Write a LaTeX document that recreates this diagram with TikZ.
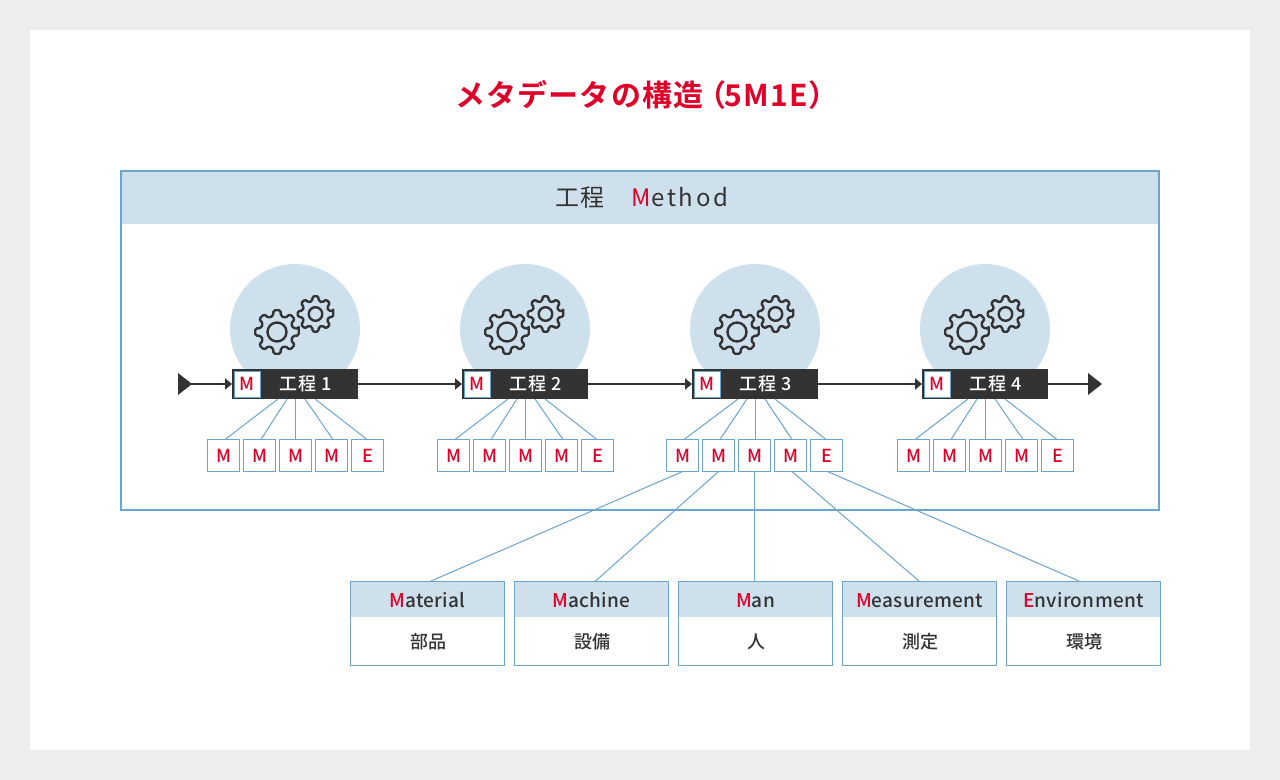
\documentclass[tikz,border=0pt]{standalone}
\usepackage{fontspec}
\usetikzlibrary{calc,arrows.meta}
\setmainfont{Noto Sans CJK JP}
\newfontfamily\jpreg[LetterSpace=8]{Noto Sans CJK JP}
\newfontfamily\jplat[LetterSpace=11]{Noto Sans CJK JP}
\newfontfamily\jplow[LetterSpace=1.5]{Noto Sans CJK JP Medium}
\newfontfamily\jpbold[LetterSpace=4]{Noto Sans CJK JP Bold}
\newfontfamily\jpmed{Noto Sans CJK JP Medium}
\newfontfamily\jpbar[LetterSpace=6]{Noto Sans CJK JP Medium}
\definecolor{redc}{HTML}{DF0029}
\definecolor{linec}{HTML}{6BA4CF}
\definecolor{lightc}{HTML}{CFE0ED}
\definecolor{darkc}{HTML}{333333}
\definecolor{bgc}{HTML}{EDEDED}
\newcommand{\pxfs}[1]{\fontsize{\fpeval{#1*0.75}pt}{\fpeval{#1*0.9}pt}\selectfont}
\newcommand{\R}[1]{\textcolor{redc}{#1}}
\newcommand{\gearshape}[5]{% cx cy outer inner teeth
  \pgfmathsetmacro{\gstep}{360/#5}
  \draw[gearline] ({#1+#3*cos(-0.2*\gstep)},{#2+#3*sin(-0.2*\gstep)})
    \foreach \gi in {1,...,#5} {
      -- ({#1+#3*cos((\gi-1)*\gstep+0.2*\gstep)},{#2+#3*sin((\gi-1)*\gstep+0.2*\gstep)})
      -- ({#1+(#4)*cos((\gi-1)*\gstep+0.31*\gstep)},{#2+(#4)*sin((\gi-1)*\gstep+0.31*\gstep)})
      -- ({#1+(#4)*cos((\gi-1)*\gstep+0.69*\gstep)},{#2+(#4)*sin((\gi-1)*\gstep+0.69*\gstep)})
      -- ({#1+#3*cos((\gi-1)*\gstep+0.8*\gstep)},{#2+#3*sin((\gi-1)*\gstep+0.8*\gstep)})
    } -- cycle;
}
\tikzset{
  x=0.75pt,y=-0.75pt,
  gearline/.style={draw=darkc,line width=1.8pt,rounded corners=1.1pt,line join=round},
  thinline/.style={draw=linec,line width=0.75pt},
  flow/.style={draw=darkc,line width=1.5pt},
  flowarrow/.style={flow,-{Triangle[length=5.25pt,width=8.25pt]}},
  endtri/.style={fill=darkc,draw=none},
  barbox/.style={fill=darkc,draw=none,minimum width=94.5pt,minimum height=22.5pt,inner sep=0pt,outer sep=0pt,text=white,font=\jpbar\pxfs{18}},
  tagbox/.style={fill=white,draw=linec,line width=0.75pt,minimum width=19.5pt,minimum height=19.5pt,inner sep=0pt,outer sep=0pt,text=redc,font=\jpmed\pxfs{18}},
  kindbox/.style={fill=white,draw=linec,line width=0.75pt,minimum width=24pt,minimum height=24pt,inner sep=0pt,outer sep=0pt,text=redc,font=\jpmed\pxfs{18}},
  framebox/.style={draw=linec,line width=1.5pt,minimum width=778.5pt,minimum height=254.25pt,inner sep=0pt,outer sep=0pt},
  headband/.style={fill=lightc,draw=none,minimum width=778.5pt,minimum height=39.75pt,inner sep=0pt,outer sep=0pt,text=darkc,font=\jpreg\pxfs{24}},
  lowhead/.style={fill=lightc,draw=none,minimum width=115.5pt,minimum height=27pt,inner sep=0pt,outer sep=0pt,text=darkc,text height=14.5pt,text depth=1.8pt,font=\jplow\pxfs{19}},
  lowbox/.style={draw=linec,line width=0.75pt,minimum width=115.5pt,minimum height=63pt,inner sep=0pt,outer sep=0pt,fill=white},
  lowtext/.style={inner sep=0pt,text=darkc,font=\jpmed\pxfs{18}},
  procdisc/.style={circle,fill=lightc,draw=none,minimum size=97.5pt,inner sep=0pt,outer sep=0pt},
}
\begin{document}
\begin{tikzpicture}
\useasboundingbox (0,0) rectangle (1280,780);
\fill[bgc] (0,0) rectangle (1280,780);
\fill[white] (30,30) rectangle (1250,750);
\node[inner sep=0pt,text=redc,font=\jpbold\pxfs{30}] (title) at (647,95) {メタデータの構造\hspace{-5.25pt}（\hspace{-1.5pt}5M1E）};
% frame
\node[headband] (hb) at (640.25,197.5) {\hspace{2pt}工程\hspace{1em}\hspace{2.25pt}{\jplat\R{M}ethod}};
\node[framebox] (fr) at (640.25,340.5) {};
% processes
\foreach \n/\cx/\bx in {1/295/225,2/525/455,3/755/684,4/985/915} {
  \node[procdisc] (disc\n) at (\cx,329) {};
  \gearshape{\cx-18}{332}{22}{16.5}{8}
  \draw[gearline] (\cx-18,332) circle[radius=9.5];
  \gearshape{\cx+20.5}{314}{18}{13.5}{8}
  \draw[gearline] (\cx+20.5,314) circle[radius=6.8];
  \node[barbox] (bar\n) at (\cx,384) {\hspace{16pt}工程 \n};
  \node[tagbox] (tag\n) at (\cx-48,384) {M};
  \foreach \k/\ch in {1/M,2/M,3/M,4/M,5/E} {
    \node[kindbox] (k\n\k) at ({\bx+(\k-1)*36-1.5},455.5) {\ch\hspace{1.5pt}};
  }
  \draw[thinline] ($(bar\n.south)+(-17,0)$) -- ($(k\n1.north)+(1.5,0)$);
  \draw[thinline] ($(bar\n.south)+(-8,0)$) -- ($(k\n2.north)+(1.5,0)$);
  \draw[thinline] (bar\n.south) -- (bar\n.south |- k\n3.north);
  \draw[thinline] ($(bar\n.south)+(10,0)$) -- ($(k\n4.north)+(1.5,0)$);
  \draw[thinline] ($(bar\n.south)+(20,0)$) -- ($(k\n5.north)+(-0.5,0)$);
}
% flow
\coordinate (startpt) at (191,384);
\coordinate (endpt) at (1089,384);
\fill[endtri] (178,373) -- (192,384) -- (178,395) -- cycle;
\fill[endtri] (1088,373) -- (1102,384) -- (1088,395) -- cycle;
\draw[flowarrow] (startpt) -- (bar1.west);
\draw[flowarrow] (bar1.east) -- (bar2.west);
\draw[flowarrow] (bar2.east) -- (bar3.west);
\draw[flowarrow] (bar3.east) -- (bar4.west);
\draw[flow] (bar4.east) -- (endpt);
% lower
\foreach \i/\cx/\hd/\jp in {1/427.5/\R{M}aterial/部品,2/591.5/\R{M}achine/設備,3/755.5/\R{M}an/人,4/919.5/\R{M}easurement/測定,5/1083.5/\R{E}nvironment/環境} {
  \node[lowbox] (low\i) at (\cx,623.5) {};
  \node[lowhead] (lh\i) at (\cx,599) {\hd};
  \node[lowtext] (lt\i) at (\cx+0.5,641.5) {\jp};
  \draw[draw=linec,line width=0.75pt] (low\i.north west) rectangle (low\i.south east);
}
\draw[thinline] (k31.south) -- ($(low1.north)+(2.5,0)$);
\draw[thinline] (k32.south) -- ($(low2.north)+(3.5,0)$);
\draw[thinline] (k33.south) -- (k33.south |- low3.north);
\draw[thinline] ($(k34.south)+(1.5,0)$) -- (low4.north);
\draw[thinline] ($(k35.south)+(1,0)$) -- ($(low5.north)+(-3.5,0)$);
\end{tikzpicture}
\end{document}
